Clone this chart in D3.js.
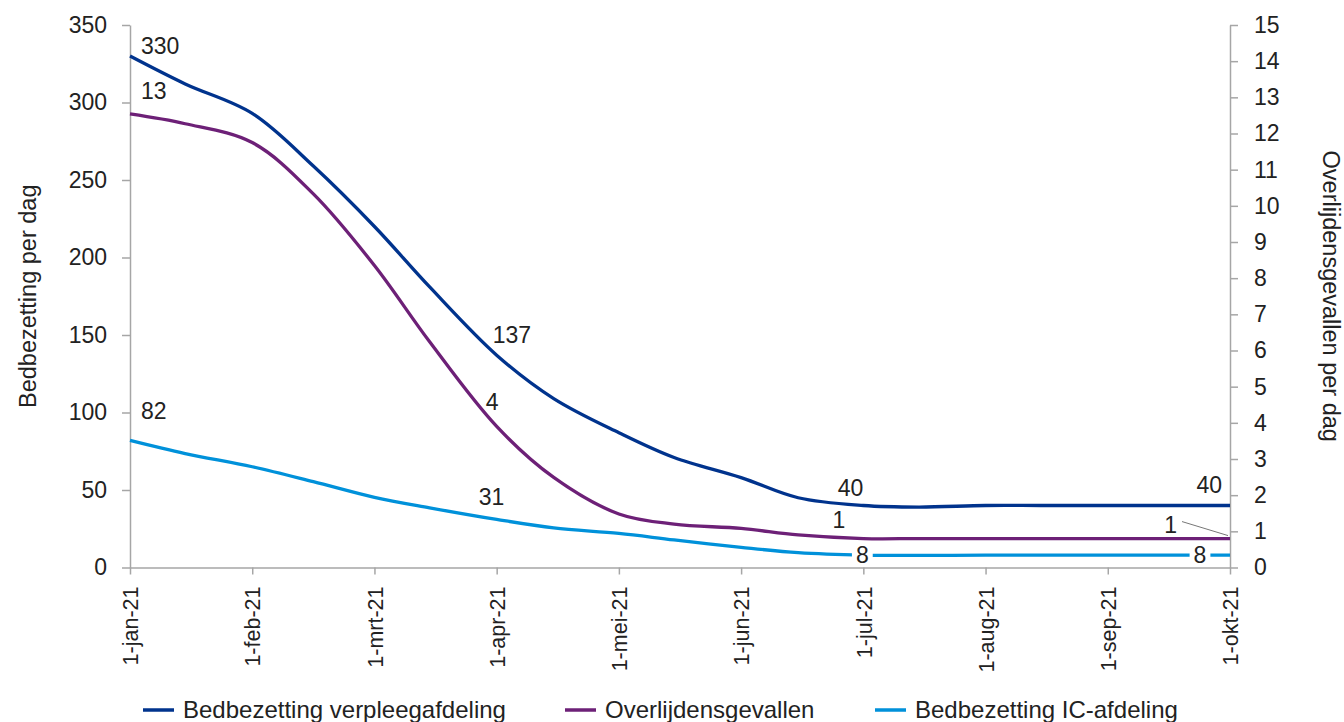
<!DOCTYPE html>
<html>
<head>
<meta charset="utf-8">
<script src="https://cdn.jsdelivr.net/npm/d3@7"></script>
<style>
  html, body { margin: 0; padding: 0; background: #fff; }
  svg { display: block; font-family: "Liberation Sans", Arial, Helvetica, sans-serif; }
</style>
</head>
<body>
<svg id="chart" width="1344" height="722"></svg>
<script>
// Observation dates (roughly every half month)
const dates = [
  "2021-01-01","2021-01-15","2021-02-01","2021-02-15","2021-03-01","2021-03-15",
  "2021-04-01","2021-04-15","2021-05-01","2021-05-15","2021-06-01","2021-06-15",
  "2021-07-01","2021-07-15","2021-08-01","2021-08-15","2021-09-01","2021-09-15",
  "2021-10-01"
];

// Bedbezetting verpleegafdeling (left axis)
const verpleeg = [330, 312, 293, 259, 220, 181, 137, 109, 87, 71, 58, 45, 40, 39, 40, 40, 40, 40, 40];
// Overlijdensgevallen (right axis)
const overlijden = [12.54, 12.27, 11.75, 10.33, 8.35, 6.24, 3.9, 2.49, 1.48, 1.2, 1.08, 0.9, 0.8, 0.8, 0.8, 0.8, 0.8, 0.8, 0.8];
// Bedbezetting IC-afdeling (left axis)
const ic = [82, 73.5, 65, 55.4, 45.3, 38.5, 31, 25.5, 22, 17.8, 13, 9.6, 8, 7.8, 8, 8, 8, 8, 8];

// Points that carry a value label
const labelIdx = [0, 6, 12, 18];

const monthTicks = ["1-jan-21","1-feb-21","1-mrt-21","1-apr-21","1-mei-21","1-jun-21","1-jul-21","1-aug-21","1-sep-21","1-okt-21"];
const leftTicks = [0, 50, 100, 150, 200, 250, 300, 350];
const rightTicks = d3.range(0, 16);

const seriesNames = ["Bedbezetting verpleegafdeling", "Overlijdensgevallen", "Bedbezetting IC-afdeling"];
const colors = ["#00338D", "#6D2077", "#0091DA"];

// ---- layout ----
const X0 = 130, X1 = 1230, YT = 25, YB = 567.5;
const axisColor = "#a6a6a6";
const textColor = "#222";

const parse = d3.timeParse("%Y-%m-%d");
// position on a month-based axis: each month takes the same width
function monthPos(d) {
  const dim = new Date(d.getFullYear(), d.getMonth() + 1, 0).getDate();
  return (d.getFullYear() - 2021) * 12 + d.getMonth() + (d.getDate() - 1) / dim;
}
const t = dates.map(s => monthPos(parse(s)));

const x = d3.scaleLinear().domain([0, 9]).range([X0, X1]);
const yL = d3.scaleLinear().domain([0, 350]).range([YB, YT]);
const yR = d3.scaleLinear().domain([0, 15]).range([YB, YT]);

const svg = d3.select("#chart");

// ---- axes ----
function styleAxis(g) {
  g.selectAll("path.domain").attr("stroke", axisColor).attr("stroke-width", 1.5);
  g.selectAll(".tick line").attr("stroke", axisColor).attr("stroke-width", 1.5);
  g.selectAll(".tick text").attr("fill", textColor).attr("font-family", null);
}

const gx = svg.append("g")
  .attr("transform", `translate(0,${YB})`)
  .call(d3.axisBottom(x).tickValues(d3.range(0, 10)).tickFormat(i => monthTicks[i])
    .tickSize(7).tickSizeOuter(0))
  .call(styleAxis);
gx.selectAll(".tick text")
  .attr("font-size", 21.5)
  .attr("text-anchor", "end")
  .attr("transform", "rotate(-90)")
  .attr("x", -19)
  .attr("y", 0)
  .attr("dy", "0.36em");

const gl = svg.append("g")
  .attr("transform", `translate(${X0},0)`)
  .call(d3.axisLeft(yL).tickValues(leftTicks).tickSize(8).tickSizeOuter(0).tickPadding(15))
  .call(styleAxis);
gl.selectAll(".tick text").attr("font-size", 23);

const gr = svg.append("g")
  .attr("transform", `translate(${X1},0)`)
  .call(d3.axisRight(yR).tickValues(rightTicks).tickSize(8).tickSizeOuter(0).tickPadding(16))
  .call(styleAxis);
gr.selectAll(".tick text").attr("font-size", 23);

// axis titles
svg.append("text")
  .attr("transform", `translate(28,${(YT + YB) / 2}) rotate(-90)`)
  .attr("text-anchor", "middle").attr("dy", "0.35em")
  .attr("font-size", 23.5).attr("fill", textColor)
  .text("Bedbezetting per dag");
svg.append("text")
  .attr("transform", `translate(1331,${(YT + YB) / 2}) rotate(90)`)
  .attr("text-anchor", "middle").attr("dy", "0.35em")
  .attr("font-size", 23.5).attr("fill", textColor)
  .text("Overlijdensgevallen per dag");

// ---- lines ----
const series = [
  { values: verpleeg, y: yL },
  { values: overlijden, y: yR },
  { values: ic, y: yL }
];
const line = (yScale) => d3.line()
  .x((d, i) => x(t[i]))
  .y(d => yScale(d))
  .curve(d3.curveCatmullRom.alpha(0.5));

series.forEach((s, k) => {
  svg.append("path")
    .datum(s.values)
    .attr("fill", "none")
    .attr("stroke", colors[k])
    .attr("stroke-width", 3.3)
    .attr("stroke-linejoin", "round")
    .attr("d", line(s.y));
});

// ---- value labels ----
// offsets (dx, dy to baseline, anchor, white background) per series and label point
const labelStyle = [
  [ {dx: 11, dy: -2, a: "start"}, {dx: -4, dy: -12, a: "start"}, {dx: 0, dy: -10, a: "end"}, {dx: -8, dy: -13, a: "end"} ],
  [ {dx: 11, dy: -15, a: "start"}, {dx: -11, dy: -16, a: "start"}, {dx: -18, dy: -11, a: "end"}, {dx: -53, dy: -6, a: "end", leader: true} ],
  [ {dx: 11, dy: -21, a: "start"}, {dx: -18, dy: -14, a: "start"}, {dx: -1, dy: 7.5, a: "middle", bg: true}, {dx: -30, dy: 7.5, a: "middle", bg: true} ]
];
const fmt = d3.format(".0f");
const labelLayer = svg.append("g");

series.forEach((s, k) => {
  labelIdx.forEach((idx, j) => {
    const st = labelStyle[k][j];
    const px = x(t[idx]), py = s.y(s.values[idx]);
    const lx = px + st.dx, ly = py + st.dy;
    const g = labelLayer.append("g");
    const txt = g.append("text")
      .attr("x", lx).attr("y", ly)
      .attr("text-anchor", st.a)
      .attr("font-size", 23)
      .attr("fill", textColor)
      .text(fmt(s.values[idx]));
    if (st.bg) {
      const bb = txt.node().getBBox();
      g.insert("rect", "text")
        .attr("x", bb.x - 4).attr("y", ly - 18)
        .attr("width", bb.width + 8).attr("height", 21)
        .attr("fill", "#fff");
    }
    if (st.leader) {
      const bb = txt.node().getBBox();
      g.append("line")
        .attr("x1", bb.x + bb.width + 5).attr("y1", ly - 11)
        .attr("x2", px - 2).attr("y2", py - 3)
        .attr("stroke", "#777").attr("stroke-width", 1);
    }
  });
});

// ---- legend ----
const legendX = [143, 565, 875];
const legend = svg.append("g");
seriesNames.forEach((name, k) => {
  legend.append("line")
    .attr("x1", legendX[k]).attr("x2", legendX[k] + 31)
    .attr("y1", 710).attr("y2", 710)
    .attr("stroke", colors[k]).attr("stroke-width", 3.5);
  legend.append("text")
    .attr("x", legendX[k] + 40).attr("y", 718)
    .attr("font-size", 24).attr("fill", textColor)
    .text(name);
});
</script>
</body>
</html>
